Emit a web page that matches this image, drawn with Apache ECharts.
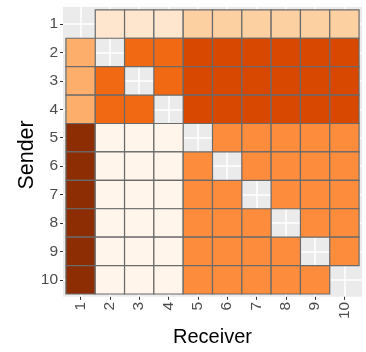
<!DOCTYPE html>
<html>
<head>
<meta charset="utf-8">
<script src="https://cdn.jsdelivr.net/npm/echarts@6/dist/echarts.min.js"></script>
<style>
html,body{margin:0;padding:0;background:#fff;}
#chart{width:366px;height:352px;}
</style>
</head>
<body>
<div id="chart"></div>
<script>
// Tick labels
const receivers = ['1','2','3','4','5','6','7','8','9','10'];
const senders = ['1','2','3','4','5','6','7','8','9','10'];
const tickPositions = [1,2,3,4,5,6,7,8,9,10];
// Fill level classes (Oranges, 8 classes)
const levelColors = ['#FFF5EB','#FEE6CE','#FDD0A2','#FDAE6B','#FD8D3C','#F16913','#D94801','#8C2D04'];
// Level per sender (row) and receiver (column); null = no value (diagonal)
const matrix = [
  [null,2,2,2,3,3,3,3,3,3],
  [4,null,6,6,7,7,7,7,7,7],
  [4,6,null,6,7,7,7,7,7,7],
  [4,6,6,null,7,7,7,7,7,7],
  [8,1,1,1,null,5,5,5,5,5],
  [8,1,1,1,5,null,5,5,5,5],
  [8,1,1,1,5,5,null,5,5,5],
  [8,1,1,1,5,5,5,null,5,5],
  [8,1,1,1,5,5,5,5,null,5],
  [8,1,1,1,5,5,5,5,5,null]
];

const data = [];
matrix.forEach((row, i) => {
  row.forEach((lvl, j) => {
    if (lvl !== null) data.push([j + 1, i + 1, lvl]);
  });
});

const FONT = '"Liberation Sans", Arial, sans-serif';
const chart = echarts.init(document.getElementById('chart'), null, {renderer: 'canvas'});
chart.setOption({
  animation: false,
  grid: {
    left: 63, right: 4, top: 7, bottom: 46,
    show: true, backgroundColor: '#EBEBEB', borderWidth: 0
  },
  xAxis: {
    type: 'value', min: 0.4, max: 10.6,
    name: 'Receiver', nameLocation: 'middle', nameGap: 25,
    nameTextStyle: {color: '#000', fontSize: 20, fontFamily: FONT},
    axisLine: {show: false},
    axisTick: {show: true, length: 3, customValues: tickPositions, lineStyle: {color: '#333', width: 1}},
    axisLabel: {customValues: tickPositions, formatter: v => receivers[v - 1], rotate: 90, margin: 5,
      color: '#4D4D4D', fontSize: 15.5, fontFamily: FONT},
    splitLine: {show: true, lineStyle: {color: '#FFFFFF', width: 1.5}}
  },
  yAxis: {
    type: 'value', min: 0.4, max: 10.6, inverse: true,
    name: 'Sender', nameLocation: 'middle', nameGap: 25, nameRotate: 90, nameMoveOverlap: false,
    nameTextStyle: {color: '#000', fontSize: 21.5, fontFamily: FONT, padding: [0, 6, 0, 0]},
    axisLine: {show: false},
    axisTick: {show: true, length: 3, customValues: tickPositions, lineStyle: {color: '#333', width: 1}},
    axisLabel: {customValues: tickPositions, formatter: v => senders[v - 1], margin: 5,
      color: '#4D4D4D', fontSize: 15.5, fontFamily: FONT},
    splitLine: {show: true, lineStyle: {color: '#FFFFFF', width: 1.5}}
  },
  series: [{
    type: 'custom',
    data: data,
    encode: {x: 0, y: 1},
    renderItem: function (params, api) {
      const x = api.value(0), y = api.value(1), lvl = api.value(2);
      const p0 = api.coord([x - 0.5, y - 0.5]);
      const p1 = api.coord([x + 0.5, y + 0.5]);
      return {
        type: 'rect',
        shape: {
          x: Math.min(p0[0], p1[0]), y: Math.min(p0[1], p1[1]),
          width: Math.abs(p1[0] - p0[0]), height: Math.abs(p1[1] - p0[1])
        },
        style: {fill: levelColors[lvl - 1], stroke: '#6A6A6A', lineWidth: 1.2}
      };
    }
  }]
});
</script>
</body>
</html>
